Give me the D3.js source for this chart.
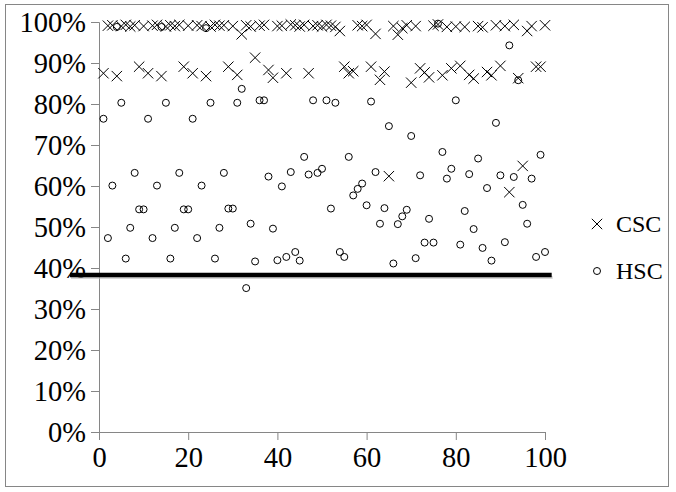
<!DOCTYPE html>
<html>
<head>
<meta charset="utf-8">
<script src="https://cdn.jsdelivr.net/npm/d3@7"></script>
<style>
  body { margin: 0; background: #fff; }
  text { font-family: "Liberation Serif", "Times New Roman", serif; }
</style>
</head>
<body>
<div id="chart"></div>
<script>
// percent values, one per run (x = 1..100)
const cscValues = [
  87.5, 99.1, 99.2, 86.8, 99.0, 99.3, 98.9, 99.2, 89.1, 99.0,
  87.5, 99.1, 99.3, 86.8, 98.9, 99.2, 99.0, 99.3, 89.1, 99.1,
  87.5, 99.2, 99.0, 86.8, 98.9, 99.3, 99.1, 99.2, 89.1, 99.0,
  87.1, 97.0, 99.2, 98.9, 91.3, 99.1, 99.3, 88.3, 86.4, 99.0,
  99.1, 87.5, 99.4, 99.2, 98.9, 99.3, 87.5, 99.0, 99.2, 98.9,
  99.3, 99.1, 98.8, 97.8, 89.1, 87.5, 88.0, 99.2, 99.0, 99.3,
  89.1, 97.1, 85.9, 87.9, 62.4, 99.0, 96.9, 98.5, 99.2, 85.2,
  99.0, 88.7, 87.7, 86.5, 99.1, 99.4, 87.0, 98.8, 88.7, 98.9,
  89.3, 98.8, 87.1, 86.2, 99.0, 98.7, 87.8, 87.0, 99.2, 89.3,
  99.0, 58.5, 99.3, 86.3, 64.9, 97.8, 99.0, 89.1, 89.1, 99.2
]

const hscValues = [
  76.4, 47.3, 60.1, 98.8, 80.3, 42.3, 49.8, 63.2, 54.3, 54.3,
  76.4, 47.3, 60.1, 98.8, 80.3, 42.3, 49.8, 63.2, 54.3, 54.3,
  76.4, 47.3, 60.1, 98.5, 80.3, 42.3, 49.8, 63.2, 54.5, 54.5,
  80.3, 83.7, 35.1, 50.8, 41.6, 80.9, 80.9, 62.3, 49.6, 41.9,
  59.9, 42.7, 63.4, 43.9, 41.8, 67.1, 62.8, 80.9, 63.2, 64.2,
  80.9, 54.5, 80.3, 43.9, 42.7, 67.1, 57.7, 59.3, 60.6, 55.3,
  80.6, 63.4, 50.8, 54.6, 74.6, 41.1, 50.7, 52.6, 54.2, 72.2,
  42.4, 62.6, 46.2, 52.0, 46.2, 99.6, 68.3, 61.8, 64.2, 80.9,
  45.7, 53.9, 62.9, 49.5, 66.7, 44.9, 59.5, 41.8, 75.4, 62.6,
  46.3, 94.3, 62.2, 85.8, 55.4, 50.8, 61.8, 42.7, 67.6, 43.9
]

const seriesNames = ['CSC', 'HSC']
const xTicks = [0, 20, 40, 60, 80, 100]
const yTicks = [0, 10, 20, 30, 40, 50, 60, 70, 80, 90, 100]
const threshold = 38.3
const thresholdSpan = [-6.5, 101.5]

let margin = { top: 22, left: 99, right: 131, bottom: 60 }

let width = 676 - margin.left - margin.right
let height = 492 - margin.top - margin.bottom

const serif = '"Liberation Serif", "Times New Roman", serif'

const root = d3
  .select('#chart')
  .append('svg')
  .attr('width', 676)
  .attr('height', 492)

// outer frame
root
  .append('rect')
  .attr('x', 5.5)
  .attr('y', 4.5)
  .attr('width', 663)
  .attr('height', 482)
  .attr('fill', 'none')
  .attr('stroke', '#868686')
  .attr('stroke-width', 1)

const svg = root
  .append('g')
  .attr('transform', 'translate(' + margin.left + ',' + margin.top + ')')

var xPositionScale = d3
  .scaleLinear()
  .domain([0, 100])
  .range([0, width])

var yPositionScale = d3
  .scaleLinear()
  .domain([0, 100])
  .range([height, 0])

// axes
const xAxis = d3
  .axisBottom(xPositionScale)
  .tickValues(xTicks)
  .tickSize(8)
  .tickPadding(7)
  .tickFormat(d3.format('d'))

const yAxis = d3
  .axisLeft(yPositionScale)
  .tickValues(yTicks)
  .tickSize(8)
  .tickPadding(5)
  .tickFormat(d => d + '%')

const xg = svg
  .append('g')
  .attr('transform', 'translate(0,' + height + ')')
  .call(xAxis)

const yg = svg.append('g').call(yAxis)

;[xg, yg].forEach(g => {
  g.attr('font-family', null).attr('font-size', null)
  g.select('.domain').attr('stroke', '#868686')
  g.selectAll('.tick line').attr('stroke', '#868686')
  g.selectAll('.tick text')
    .attr('fill', '#000')
    .style('font-size', '28.5px')
    .style('font-family', serif)
})

// threshold bar with a faint shadow
svg
  .append('line')
  .attr('x1', xPositionScale(thresholdSpan[0]) + 1)
  .attr('x2', xPositionScale(thresholdSpan[1]) + 1)
  .attr('y1', yPositionScale(threshold) + 2.5)
  .attr('y2', yPositionScale(threshold) + 2.5)
  .attr('stroke', '#bbb')
  .attr('stroke-width', 3)
  .attr('opacity', 0.6)

svg
  .append('line')
  .attr('x1', xPositionScale(thresholdSpan[0]))
  .attr('x2', xPositionScale(thresholdSpan[1]))
  .attr('y1', yPositionScale(threshold))
  .attr('y2', yPositionScale(threshold))
  .attr('stroke', '#000')
  .attr('stroke-width', 4.5)

const crossPath = d3.symbol().type(d3.symbolX).size(72)

// HSC circles
svg
  .selectAll('.hsc')
  .data(hscValues)
  .enter()
  .append('circle')
  .attr('class', 'hsc')
  .attr('cx', (d, i) => xPositionScale(i + 1))
  .attr('cy', d => yPositionScale(d))
  .attr('r', 3.5)
  .attr('fill', 'none')
  .attr('stroke', '#000')
  .attr('stroke-width', 1)

// CSC crosses
svg
  .selectAll('.csc')
  .data(cscValues)
  .enter()
  .append('path')
  .attr('class', 'csc')
  .attr('d', crossPath)
  .attr('transform', (d, i) => 'translate(' + xPositionScale(i + 1) + ',' + yPositionScale(d) + ')')
  .attr('fill', 'none')
  .attr('stroke', '#000')
  .attr('stroke-width', 1)

// legend
const legend = root
  .selectAll('.legend')
  .data(seriesNames)
  .enter()
  .append('g')
  .attr('class', 'legend')
  .attr('transform', (d, i) => 'translate(597,' + (224 + i * 47) + ')')

legend.each(function(d) {
  const g = d3.select(this)
  if (d === 'CSC') {
    g.append('path')
      .attr('d', crossPath)
      .attr('fill', 'none')
      .attr('stroke', '#000')
  } else {
    g.append('circle')
      .attr('r', 3.5)
      .attr('fill', 'none')
      .attr('stroke', '#000')
  }
  g.append('text')
    .attr('x', 19)
    .attr('y', 8)
    .style('font-size', '24px')
    .style('font-family', serif)
    .text(d)
})
</script>
</body>
</html>
